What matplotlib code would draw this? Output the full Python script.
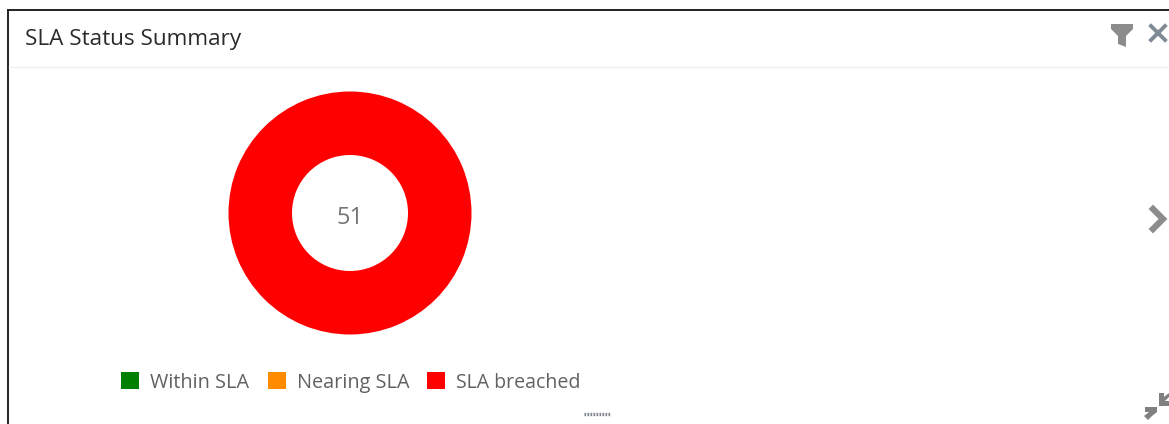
import matplotlib
matplotlib.use('Agg')
import matplotlib.pyplot as plt
from matplotlib.patches import Polygon, Rectangle

plt.rcParams['font.family'] = ['Open Sans', 'DejaVu Sans']

# data
categories = ['Within SLA', 'Nearing SLA', 'SLA breached']
values = [0, 0, 51]
colors = ['#008000', '#ff8c00', '#ff0000']
total_label = '51'
title = 'SLA Status Summary'

W, H = 1169, 424
fig = plt.figure(figsize=(W / 100, H / 100), dpi=100, facecolor='white')

# page overlay in pixel coordinates, y going down like the screenshot
bg = fig.add_axes([0, 0, 1, 1])
bg.set_xlim(0, W)
bg.set_ylim(H, 0)
bg.axis('off')

# panel border and header rule
bg.plot([8, 8], [10, H], color='#222222', lw=1.4)
bg.plot([8, W], [10, 10], color='#222222', lw=1.4)
bg.plot([9, W], [67, 67], color='#f0f0f0', lw=1)
bg.text(25, 40, title, fontsize=16.2, color='#2b2b2b', va='center', ha='left')

# donut
cx, cy, r = 350, 213, 121.5
pie_ax = fig.add_axes([(cx - r) / W, 1 - (cy + r) / H, 2 * r / W, 2 * r / H])
pie_ax.pie(values, colors=colors, radius=1, startangle=90, counterclock=False,
           wedgeprops={'width': 1 - 58 / 121.5})
pie_ax.set_xlim(-1, 1)
pie_ax.set_ylim(-1, 1)
pie_ax.text(0, -0.04, total_label, fontsize=17, color='#757575', ha='center', va='center')

# legend
swatch_x = [121, 268, 427]
label_x = [150, 297, 456]
label_sizes = [14.3, 14.3, 14.05]
for name, col, sx, lx, fs in zip(categories, colors, swatch_x, label_x, label_sizes):
    bg.add_patch(Rectangle((sx, 372), 18, 17, facecolor=col, edgecolor='none'))
    bg.text(lx, 383, name, fontsize=fs, color='#616161', va='center', ha='left')

# resize grip dots
bg.plot([584, 610], [413.5, 413.5], color='#7d828c', lw=2.4, linestyle=(0, (0.5, 0.4)))

# toolbar icons
grey = '#8c8c8c'
bg.add_patch(Polygon([(1111, 24), (1133, 24), (1133, 29), (1126, 36), (1126, 47),
                      (1118, 44), (1118, 36), (1111, 29)], facecolor=grey, edgecolor='none'))
bg.plot([1151, 1165], [26, 40], color='#7f8a94', lw=2.8)
bg.plot([1151, 1165], [40, 26], color='#7f8a94', lw=2.8)
bg.plot([1153, 1163, 1153], [209, 219, 229], color=grey, lw=4.5, solid_joinstyle='miter')

# collapse arrows
bg.add_patch(Polygon([(1159, 393), (1159, 406), (1169, 406), (1169, 401), (1165, 401),
                      (1169, 397), (1169, 393), (1164, 397), (1164, 393)],
                     facecolor='#808080', edgecolor='none'))
bg.add_patch(Polygon([(1157, 407), (1157, 412), (1152, 416), (1148, 420), (1144, 416),
                      (1149, 412), (1145, 412), (1145, 407)],
                     facecolor='#808080', edgecolor='none'))

fig.savefig('out.png', dpi=100, facecolor='white')
